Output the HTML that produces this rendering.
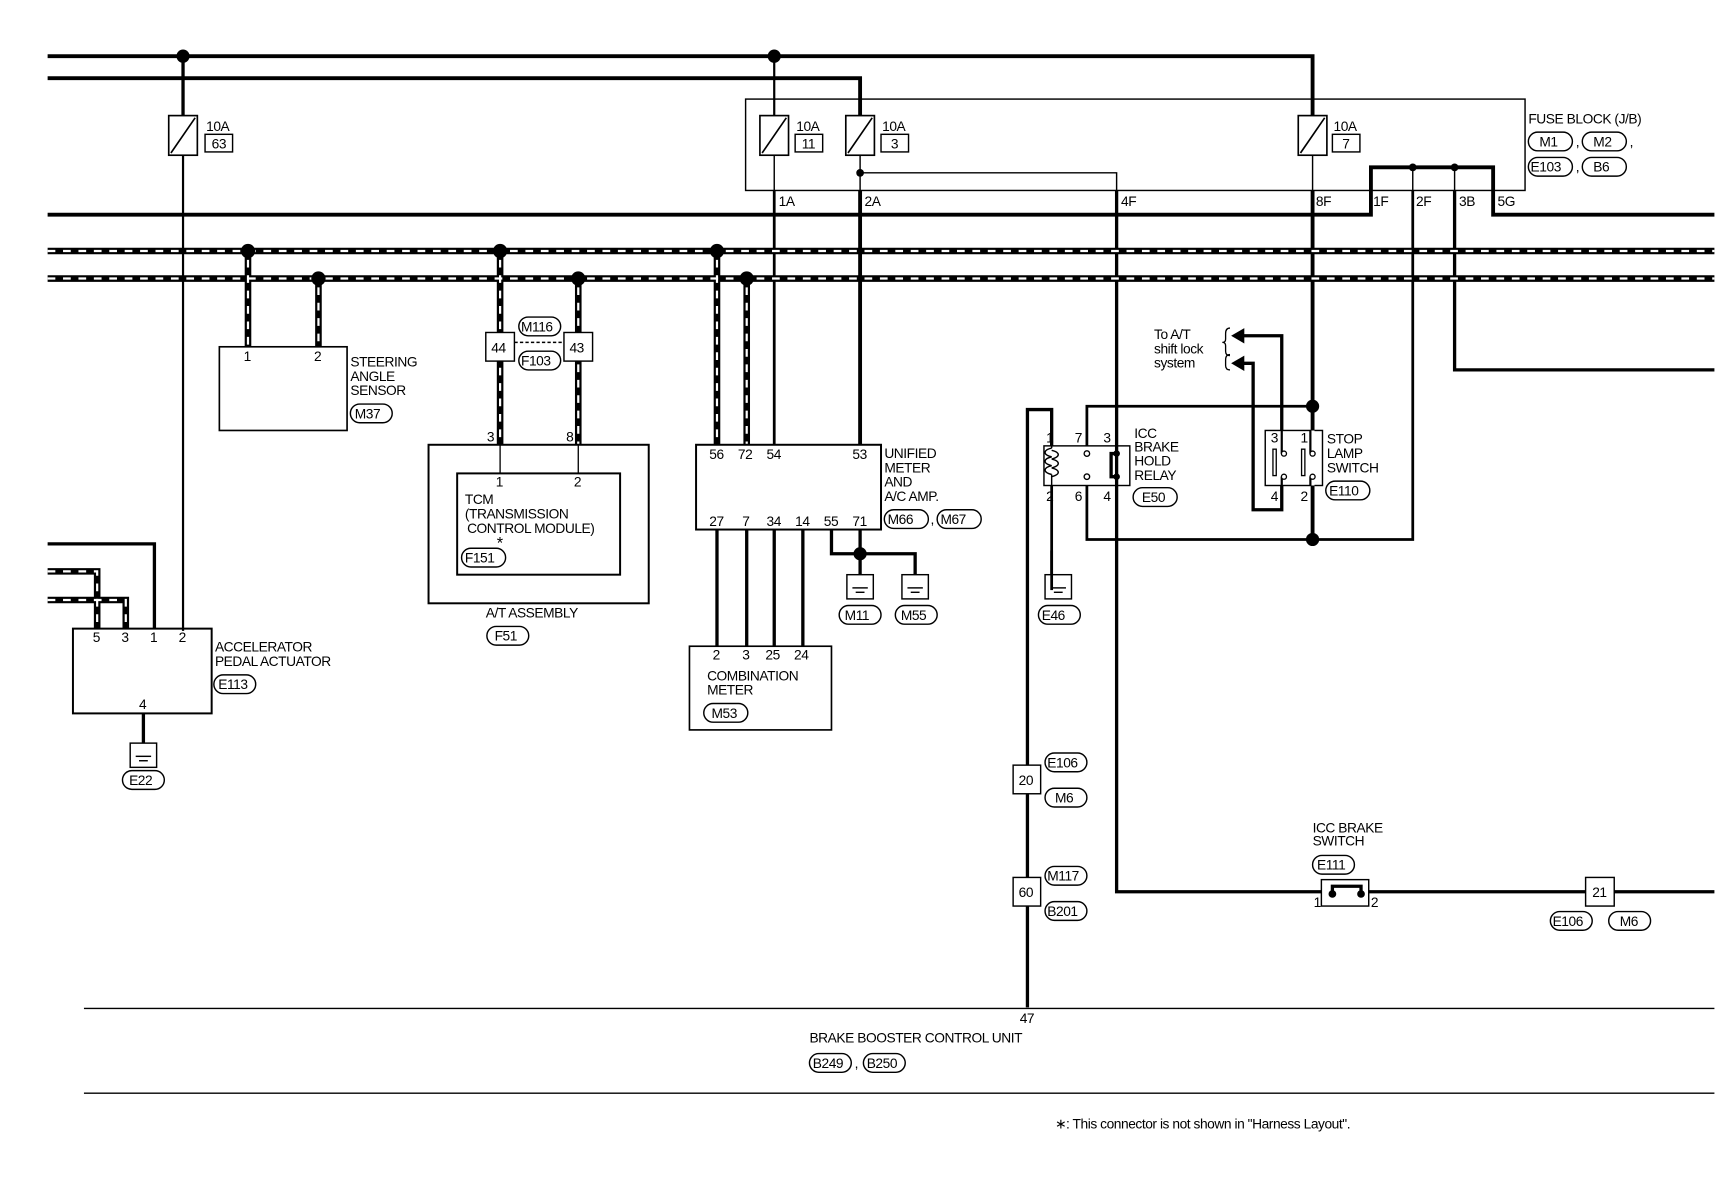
<!DOCTYPE html>
<html><head><meta charset="utf-8"><style>
html,body{margin:0;padding:0;background:#fff;}
svg{display:block;}
text{font-family:"Liberation Sans",sans-serif;font-size:12.5px;fill:#000;letter-spacing:-0.4px;}
</style></head><body>
<svg width="1718" height="1200" viewBox="0 0 1560 1090" xmlns="http://www.w3.org/2000/svg">
<defs>
<g id="gnd"><rect x="-12" y="0" width="24" height="22" fill="#fff" stroke="#000" stroke-width="1.3"/><line x1="-7" y1="12" x2="7" y2="12" stroke="#000" stroke-width="1.3"/><line x1="-4" y1="16" x2="4" y2="16" stroke="#000" stroke-width="1.3"/></g>
</defs>
<g fill="none" stroke="#000" stroke-linejoin="miter">
<!-- top power lines -->
<polyline points="43,51 1192,51 1192,105" stroke-width="3.5"/>
<polyline points="43,71 781,71 781,105" stroke-width="3.5"/>
<line x1="166" y1="51" x2="166" y2="105" stroke-width="3"/>
<line x1="703" y1="51" x2="703" y2="105" stroke-width="2"/>
<!-- fuse block -->
<rect x="677" y="90" width="708" height="83" stroke-width="1.3"/>
<!-- fuses -->
<rect x="153" y="105" width="26" height="36" stroke-width="1.5"/><line x1="155" y1="139" x2="177" y2="107" stroke-width="1.5"/>
<rect x="690" y="105" width="26" height="36" stroke-width="1.5"/><line x1="692" y1="139" x2="714" y2="107" stroke-width="1.5"/>
<rect x="768" y="105" width="26" height="36" stroke-width="1.5"/><line x1="770" y1="139" x2="792" y2="107" stroke-width="1.5"/>
<rect x="1179" y="105" width="26" height="36" stroke-width="1.5"/><line x1="1181" y1="139" x2="1203" y2="107" stroke-width="1.5"/>
<rect x="186" y="122" width="25" height="16" stroke-width="1.3"/>
<rect x="722" y="122" width="25" height="16" stroke-width="1.3"/>
<rect x="800" y="122" width="25" height="16" stroke-width="1.3"/>
<rect x="1210" y="122" width="25" height="16" stroke-width="1.3"/>
<!-- wires from fuses -->
<line x1="166" y1="141" x2="166" y2="573" stroke-width="2"/>
<line x1="703" y1="141" x2="703" y2="173" stroke-width="1.3"/>
<line x1="703" y1="173" x2="703" y2="404" stroke-width="2.5"/>
<line x1="781" y1="141" x2="781" y2="173" stroke-width="1.3"/>
<line x1="781" y1="173" x2="781" y2="404" stroke-width="3.5"/>
<polyline points="781,157 1014,157 1014,173" stroke-width="1.3"/>
<polyline points="1014,173 1014,810 1557,810" stroke-width="3"/>
<line x1="1192" y1="141" x2="1192" y2="173" stroke-width="1.3"/>
<line x1="1192" y1="173" x2="1192" y2="490" stroke-width="3.5"/>
<!-- main bus -->
<polyline points="43,195 1245,195 1245,152 1356,152 1356,195 1557,195" stroke-width="3.5"/>
<line x1="1283" y1="152" x2="1283" y2="173" stroke-width="1.3"/>
<polyline points="1283,173 1283,490 987,490 987,441" stroke-width="2.5"/>
<line x1="1321" y1="152" x2="1321" y2="173" stroke-width="1.3"/>
<polyline points="1321,173 1321,336 1557,336" stroke-width="3"/>
<!-- dashed harnesses -->
<g stroke-width="6"><line x1="43" y1="228" x2="1557" y2="228"/><line x1="43" y1="253" x2="1557" y2="253"/>
<line x1="225" y1="228" x2="225" y2="315"/><line x1="289" y1="253" x2="289" y2="315"/>
<line x1="454" y1="228" x2="454" y2="404"/><line x1="525" y1="253" x2="525" y2="404"/>
<line x1="651" y1="228" x2="651" y2="404"/><line x1="678" y1="253" x2="678" y2="404"/>
<polyline points="43,519 88,519 88,571"/><polyline points="43,545 114,545 114,571"/></g>
<g stroke="#fff" stroke-width="2" stroke-dasharray="7,7"><line x1="43" y1="228" x2="1557" y2="228"/><line x1="43" y1="253" x2="1557" y2="253"/>
<line x1="225" y1="236" x2="225" y2="315"/><line x1="289" y1="261" x2="289" y2="315"/>
<line x1="454" y1="236" x2="454" y2="404"/><line x1="525" y1="261" x2="525" y2="404"/>
<line x1="651" y1="236" x2="651" y2="404"/><line x1="678" y1="261" x2="678" y2="404"/>
<polyline points="43,519 88,519 88,571"/><polyline points="43,545 114,545 114,571"/></g>
<!-- steering sensor -->
<rect x="199" y="315" width="116" height="76" stroke-width="1.5" fill="#fff"/>
<!-- connectors 44/43 -->
<rect x="441" y="302" width="26" height="26" fill="#fff" stroke-width="1.3"/>
<rect x="512" y="302" width="26" height="26" fill="#fff" stroke-width="1.3"/>
<line x1="467" y1="311" x2="512" y2="311" stroke-width="1.3" stroke-dasharray="3,2"/>
<!-- AT assembly -->
<rect x="389" y="404" width="200" height="144" stroke-width="1.8"/>
<rect x="415" y="430" width="148" height="92" stroke-width="1.8"/>
<line x1="454" y1="404" x2="454" y2="430" stroke-width="1.2"/>
<line x1="525" y1="404" x2="525" y2="430" stroke-width="1.2"/>
<!-- unified meter -->
<rect x="632" y="404" width="168" height="77" stroke-width="1.8"/>
<g stroke-width="3"><line x1="651" y1="481" x2="651" y2="587"/><line x1="678" y1="481" x2="678" y2="587"/><line x1="703" y1="481" x2="703" y2="587"/><line x1="729" y1="481" x2="729" y2="587"/>
<polyline points="755,481 755,503 831,503 831,522"/><line x1="781" y1="481" x2="781" y2="522"/></g>
<rect x="626" y="587" width="129" height="76" stroke-width="1.5"/>
<!-- accelerator -->
<polyline points="43,494 140,494 140,571" stroke-width="3"/>
<rect x="66" y="571" width="126" height="77" stroke-width="1.8"/>
<line x1="130" y1="648" x2="130" y2="675" stroke-width="3"/>
<!-- relay -->
<polyline points="933,915 933,372 955,372 955,405" stroke-width="3"/>
<line x1="955" y1="441" x2="955" y2="522" stroke-width="2.5"/>
<polyline points="987,405 987,369 1192,369" stroke-width="2.5"/>
<rect x="948" y="405" width="78" height="36" fill="#fff" stroke-width="1.3"/>
<path d="M955,407 c-8,2 -8,6 0,8 c-8,2 -8,6 0,8 c-8,2 -8,6 0,8 M955,407 L955,405 M955,431 L955,441" stroke-width="1.3"/>
<path d="M955,409 c8,2 8,6 0,8 M955,417 c8,2 8,6 0,8 M955,425 c8,2 8,6 0,8" stroke-width="1.3"/>
<circle cx="987" cy="412" r="2.5" fill="#fff" stroke-width="1.2"/><circle cx="987" cy="433" r="2.5" fill="#fff" stroke-width="1.2"/>
<polyline points="1014,412 1009,412 1009,433 1014,433" stroke-width="3"/>
<line x1="1014" y1="405" x2="1014" y2="441" stroke-width="3"/>
<!-- stop lamp switch -->
<polyline points="1164,391 1164,305 1122,305" stroke-width="3"/>
<polyline points="1164,441 1164,463 1138,463 1138,330 1122,330" stroke-width="3"/>
<rect x="1149" y="391" width="52" height="50" fill="#fff" stroke-width="1.3"/>
<line x1="1192" y1="391" x2="1192" y2="441" stroke-width="3.5" stroke="#fff"/>
<line x1="1190" y1="391" x2="1190" y2="412" stroke-width="2"/><line x1="1190" y1="433" x2="1190" y2="441" stroke-width="2"/>
<line x1="1164" y1="391" x2="1164" y2="412" stroke-width="2"/><line x1="1164" y1="433" x2="1164" y2="441" stroke-width="2"/>
<rect x="1156" y="408" width="3" height="24" stroke-width="1.2"/><rect x="1182" y="408" width="3" height="24" stroke-width="1.2"/>
<circle cx="1166" cy="412" r="2.3" fill="#fff" stroke-width="1.2"/><circle cx="1166" cy="433" r="2.3" fill="#fff" stroke-width="1.2"/>
<circle cx="1192" cy="412" r="2.3" fill="#fff" stroke-width="1.2"/><circle cx="1192" cy="433" r="2.3" fill="#fff" stroke-width="1.2"/>
<path d="M1117,298 q-4,0 -4,5 v5 q0,3 -3,3 q3,0 3,3 v5 q0,4 4,4 M1117,322 q-4,0 -4,5 v5 q0,4 4,4" stroke-width="1.2"/>
<!-- connectors 20/60 -->
<rect x="920" y="695" width="25" height="26" fill="#fff" stroke-width="1.3"/>
<rect x="920" y="797" width="25" height="26" fill="#fff" stroke-width="1.3"/>
<!-- ICC brake switch -->
<rect x="1200" y="799" width="43" height="24" fill="#fff" stroke-width="1.3"/>
<polyline points="1210,812 1210,805 1236,805 1236,812" stroke-width="3"/>
<rect x="1440" y="797" width="26" height="26" fill="#fff" stroke-width="1.3"/>
<!-- bottom unit -->
<line x1="76" y1="916" x2="1557" y2="916" stroke-width="1.3"/>
<line x1="76" y1="993" x2="1557" y2="993" stroke-width="1.3"/>
<!-- ovals -->
<g stroke-width="1.3">
<rect x="318" y="367" width="38" height="17" rx="8.5"/>
<rect x="471" y="288" width="38" height="17" rx="8.5"/>
<rect x="471" y="319" width="38" height="17" rx="8.5"/>
<rect x="419" y="498" width="40" height="17" rx="8.5"/>
<rect x="442" y="569" width="38" height="17" rx="8.5"/>
<rect x="194" y="613" width="38" height="17" rx="8.5"/>
<rect x="111" y="700" width="38" height="17" rx="8.5"/>
<rect x="639" y="639" width="40" height="17" rx="8.5"/>
<rect x="762" y="550" width="38" height="17" rx="8.5"/>
<rect x="813" y="550" width="38" height="17" rx="8.5"/>
<rect x="943" y="550" width="38" height="17" rx="8.5"/>
<rect x="803" y="463" width="40" height="17" rx="8.5"/>
<rect x="851" y="463" width="40" height="17" rx="8.5"/>
<rect x="1029" y="443" width="40" height="17" rx="8.5"/>
<rect x="1204" y="437" width="40" height="17" rx="8.5"/>
<rect x="949" y="684" width="38" height="17" rx="8.5"/>
<rect x="949" y="716" width="38" height="17" rx="8.5"/>
<rect x="949" y="787" width="38" height="17" rx="8.5"/>
<rect x="949" y="819" width="38" height="17" rx="8.5"/>
<rect x="1192" y="777" width="38" height="17" rx="8.5"/>
<rect x="1408" y="828" width="38" height="17" rx="8.5"/>
<rect x="1461" y="828" width="38" height="17" rx="8.5"/>
<rect x="735" y="957" width="38" height="17" rx="8.5"/>
<rect x="784" y="957" width="38" height="17" rx="8.5"/>
<rect x="1388" y="120" width="40" height="17" rx="8.5"/>
<rect x="1437" y="120" width="40" height="17" rx="8.5"/>
<rect x="1388" y="143" width="40" height="17" rx="8.5"/>
<rect x="1437" y="143" width="40" height="17" rx="8.5"/>
</g>
</g>
<!-- grounds -->
<use href="#gnd" x="130" y="675"/>
<use href="#gnd" x="781" y="522"/>
<use href="#gnd" x="831" y="522"/>
<use href="#gnd" x="961" y="522"/>
<line x1="955" y1="500" x2="955" y2="536" stroke="#000" stroke-width="2.5"/>
<!-- arrows -->
<polygon points="1118,305 1130,298 1130,312" fill="#000"/>
<polygon points="1118,330 1130,323 1130,337" fill="#000"/>
<!-- dots -->
<g fill="#000">
<circle cx="166" cy="51" r="6"/><circle cx="703" cy="51" r="6"/>
<circle cx="781" cy="157" r="3.5"/><circle cx="1283" cy="152" r="3.5"/><circle cx="1321" cy="152" r="3.5"/>
<circle cx="225" cy="228" r="6.5"/><circle cx="289" cy="253" r="6.5"/><circle cx="454" cy="228" r="6.5"/><circle cx="525" cy="253" r="6.5"/><circle cx="651" cy="228" r="6.5"/><circle cx="678" cy="253" r="6.5"/>
<circle cx="781" cy="503" r="6"/><circle cx="1192" cy="369" r="6"/><circle cx="1192" cy="490" r="6"/>
<circle cx="1014" cy="412" r="3"/><circle cx="1014" cy="433" r="3"/>
<circle cx="1210" cy="812" r="3.5"/><circle cx="1236" cy="812" r="3.5"/>
</g>
<!-- texts -->
<text x="187" y="119">10A</text><text x="192" y="135">63</text>
<text x="723" y="119">10A</text><text x="728" y="135">11</text>
<text x="801" y="119">10A</text><text x="809" y="135">3</text>
<text x="1211" y="119">10A</text><text x="1219" y="135">7</text>
<text x="1388" y="112">FUSE BLOCK (J/B)</text>
<text x="1398" y="133">M1</text><text x="1431" y="133">,</text><text x="1447" y="133">M2</text><text x="1480" y="133">,</text>
<text x="1390" y="156">E103</text><text x="1431" y="156">,</text><text x="1447" y="156">B6</text>
<text x="707" y="187">1A</text><text x="785" y="187">2A</text><text x="1018" y="187">4F</text><text x="1195" y="187">8F</text>
<text x="1247" y="187">1F</text><text x="1286" y="187">2F</text><text x="1325" y="187">3B</text><text x="1360" y="187">5G</text>
<text x="221" y="328">1</text><text x="285" y="328">2</text>
<text x="318" y="333">STEERING</text><text x="318" y="346">ANGLE</text><text x="318" y="359">SENSOR</text>
<text x="322" y="380">M37</text>
<text x="446" y="320">44</text><text x="517" y="320">43</text>
<text x="473" y="301">M116</text><text x="473" y="332">F103</text>
<text x="442" y="401">3</text><text x="514" y="401">8</text>
<text x="450" y="442">1</text><text x="521" y="442">2</text>
<text x="422" y="458">TCM</text><text x="422" y="471">(TRANSMISSION</text><text x="424" y="484"> CONTROL MODULE)</text>
<text x="451" y="498" style="font-size:15px">*</text>
<text x="422" y="511">F151</text>
<text x="441" y="561">A/T ASSEMBLY</text>
<text x="449" y="582">F51</text>
<text x="644" y="417">56</text><text x="670" y="417">72</text><text x="696" y="417">54</text><text x="774" y="417">53</text>
<text x="644" y="478">27</text><text x="674" y="478">7</text><text x="696" y="478">34</text><text x="722" y="478">14</text><text x="748" y="478">55</text><text x="774" y="478">71</text>
<text x="803" y="416">UNIFIED</text><text x="803" y="429">METER</text><text x="803" y="442">AND</text><text x="803" y="455">A/C AMP.</text>
<text x="806" y="476">M66</text><text x="845" y="476">,</text><text x="854" y="476">M67</text>
<text x="767" y="563">M11</text><text x="818" y="563">M55</text>
<text x="647" y="599">2</text><text x="674" y="599">3</text><text x="695" y="599">25</text><text x="721" y="599">24</text>
<text x="642" y="618">COMBINATION</text><text x="642" y="631">METER</text>
<text x="646" y="652">M53</text>
<text x="84" y="583">5</text><text x="110" y="583">3</text><text x="136" y="583">1</text><text x="162" y="583">2</text>
<text x="126" y="644">4</text>
<text x="195" y="592">ACCELERATOR</text><text x="195" y="605">PEDAL ACTUATOR</text>
<text x="198" y="626">E113</text>
<text x="117" y="713">E22</text>
<text x="950" y="402">1</text><text x="976" y="402">7</text><text x="1002" y="402">3</text>
<text x="950" y="455">2</text><text x="976" y="455">6</text><text x="1002" y="455">4</text>
<text x="1030" y="398">ICC</text><text x="1030" y="410">BRAKE</text><text x="1030" y="423">HOLD</text><text x="1030" y="436">RELAY</text>
<text x="1037" y="456">E50</text>
<text x="946" y="563">E46</text>
<text x="1048" y="308">To A/T</text><text x="1048" y="321">shift lock</text><text x="1048" y="334">system</text>
<text x="1154" y="402">3</text><text x="1181" y="402">1</text><text x="1154" y="455">4</text><text x="1181" y="455">2</text>
<text x="1205" y="403">STOP</text><text x="1205" y="416">LAMP</text><text x="1205" y="429">SWITCH</text>
<text x="1207" y="450">E110</text>
<text x="925" y="713">20</text><text x="925" y="815">60</text>
<text x="951" y="697">E106</text><text x="958" y="729">M6</text>
<text x="951" y="800">M117</text><text x="951" y="832">B201</text>
<text x="1192" y="756">ICC BRAKE</text><text x="1192" y="768">SWITCH</text>
<text x="1196" y="790">E111</text>
<text x="1193" y="824">1</text><text x="1245" y="824">2</text>
<text x="1446" y="815">21</text>
<text x="1410" y="841">E106</text><text x="1471" y="841">M6</text>
<text x="926" y="929">47</text>
<text x="735" y="947">BRAKE BOOSTER CONTROL UNIT</text>
<text x="738" y="970">B249</text><text x="776" y="970">,</text><text x="787" y="970">B250</text>
<text x="958" y="1025">∗: This connector is not shown in "Harness Layout".</text>
</svg>
</body></html>
